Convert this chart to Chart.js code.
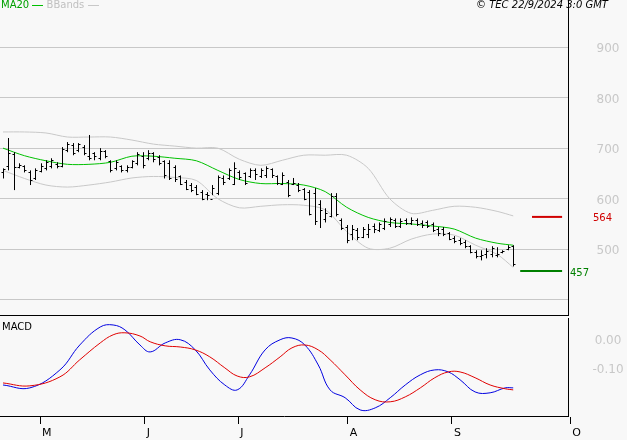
<!DOCTYPE html>
<html><head><meta charset="utf-8">
<script src="https://cdn.jsdelivr.net/npm/chart.js@4.4.1/dist/chart.umd.min.js"></script>
<style>
body{margin:0;background:#f8f8f8;width:627px;height:440px;overflow:hidden;position:relative;font-family:"DejaVu Sans",sans-serif}
#c1{position:absolute;left:0;top:0}
#c2{position:absolute;left:0;top:316px}
.t{position:absolute;font-size:10px;white-space:nowrap}
</style></head><body>
<canvas id="c1" width="627" height="316"></canvas>
<canvas id="c2" width="627" height="124"></canvas>
<div class="t" style="left:1px;top:-1px;color:#00a000">MA20 <span style="display:inline-block;width:11px;border-top:1px solid #00c000;vertical-align:middle"></span> <span style="color:#c0c0c0">BBands <span style="display:inline-block;width:11px;border-top:1px solid #c8c8c8;vertical-align:middle"></span></span></div>
<div class="t" style="left:476px;top:-1px;font-style:italic;color:#000">© TEC 22/9/2024 3:0 GMT</div>
<div class="t" style="left:2px;top:321px;color:#000">MACD</div>
<script>
const highs=[660,720,692,670,666,656,660,670,676,680,672,702,712,710,710,706,726,692,700,696,676,676,666,666,676,692,692,696,692,686,676,676,666,646,637,631,627,617,613,627,646,646,660,672,656,652,660,660,660,664,660,646,652,637,641,631,621,617,621,597,581,611,611,561,548,548,542,544,550,551,553,561,563,561,561,561,563,561,557,557,553,544,544,534,526,522,518,508,498,498,502,506,504,498,508,508];
const lows=[640,656,617,660,652,627,637,652,656,660,660,662,692,686,692,686,676,676,676,680,652,656,652,652,660,666,660,676,672,666,640,637,633,627,617,613,607,597,597,607,607,627,637,627,637,627,641,637,641,641,641,627,627,603,627,613,597,567,548,542,553,563,565,538,512,518,518,522,522,532,534,538,544,542,542,548,548,546,542,542,534,526,526,518,512,508,502,492,482,478,482,484,484,492,498,466];
const opens=[652,665,688,662,664,652,640,655,660,664,668,665,696,706,696,702,685,690,680,694,674,660,664,656,662,670,684,680,690,682,674,670,662,644,634,628,624,614,610,600,612,640,640,630,652,650,644,656,644,646,658,644,630,634,630,628,620,614,612,590,560,566,606,558,545,530,538,525,530,546,538,542,550,558,546,558,552,558,552,554,550,540,540,532,522,518,514,506,494,486,490,490,488,494,500,506];
const closes=[658,690,662,666,656,636,656,664,672,676,664,698,708,690,708,690,680,684,694,684,656,672,656,662,674,688,666,690,678,670,646,640,638,630,620,617,610,600,608,622,642,634,656,660,642,632,656,648,656,660,646,632,646,608,632,617,600,570,556,578,572,606,570,542,518,540,524,540,540,540,550,556,560,546,556,552,558,550,548,546,538,532,530,520,516,512,506,494,486,488,496,502,490,496,504,470];
const bandDays=[1,5,9,13,17,21,25,29,33,37,41,45,49,53,57,61,65,69,73,77,81,85,89,93,96];
const ma20=[700,685,675,668,668,672,684,684,680,675,656,638,630,630,627,614,583,563,553,550,546,540,522,512,508];
const bbUpper=[732,732,730,722,722,722,716,708,704,700,700,678,666,676,686,686,686,660,600,571,577,585,583,575,566];
const bbLower=[656,640,627,623,627,633,641,644,642,636,600,582,585,588,587,578,535,502,502,520,530,528,508,490,464];
const macdDays=[1,6,11.6,15.3,19.1,21.5,23.7,26.5,28.4,31.2,34,36.8,39.5,42.3,44.6,46.9,49.8,52.6,54.8,57.2,59.7,61.9,64.7,67.5,70.3,73.1,75.9,78.7,81.4,83.9,86.1,88.9,91.7,94.5,96];
const macd=[-0.159,-0.169,-0.107,-0.021,0.041,0.048,0.031,-0.021,-0.045,-0.014,-0.003,-0.038,-0.107,-0.159,-0.176,-0.124,-0.038,-0.003,0.003,-0.021,-0.090,-0.176,-0.203,-0.245,-0.238,-0.203,-0.159,-0.124,-0.107,-0.114,-0.141,-0.183,-0.186,-0.169,-0.169];
const signal=[-0.152,-0.162,-0.131,-0.072,-0.014,0.014,0.021,0.010,-0.010,-0.024,-0.028,-0.038,-0.062,-0.100,-0.128,-0.131,-0.100,-0.062,-0.031,-0.021,-0.038,-0.072,-0.124,-0.176,-0.210,-0.217,-0.200,-0.169,-0.134,-0.114,-0.114,-0.134,-0.159,-0.172,-0.176];
const resistance=564, support=457;
const monthDays=[7.9,27.4,44.8,65.2,84.6,106.6];
const monthLabels=['M','J','J','A','S','O'];
const priceTicks=[500,600,700,800,900];
const macdTicks=[0,-0.1], macdTickLabels=['0.00','-0.10'];

const XMIN=0.44, XMAX=106.2;
const pts=(d,v)=>d.map((x,i)=>({x,y:v[i]}));
const GRAY='#c8c8c8';
const ohlc={id:'ohlc',afterDatasetsDraw(ch){
  const c=ch.ctx,xs=ch.scales.x,ys=ch.scales.y;
  c.save();c.strokeStyle='#000';c.lineWidth=1;
  for(let i=0;i<highs.length;i++){
    const x=Math.round(xs.getPixelForValue(i+1))+0.5;
    c.beginPath();c.moveTo(x,ys.getPixelForValue(highs[i]));c.lineTo(x,ys.getPixelForValue(lows[i]));
    const yo=Math.round(ys.getPixelForValue(opens[i]))+0.5,yc=Math.round(ys.getPixelForValue(closes[i]))+0.5;
    c.moveTo(x-2,yo);c.lineTo(x,yo);c.moveTo(x,yc);c.lineTo(x+2,yc);c.stroke();
  }
  c.font='12px "DejaVu Sans"';c.textBaseline='middle';c.textAlign='center';c.fillStyle=GRAY;
  priceTicks.forEach(v=>c.fillText(String(v),608,ys.getPixelForValue(v)+2));
  c.font='10px "DejaVu Sans"';c.textAlign='left';
  c.fillStyle='#d00000';c.fillText(String(resistance),593,ys.getPixelForValue(resistance)+2);
  c.fillStyle='#008000';c.fillText(String(support),570,ys.getPixelForValue(support)+2);
  c.strokeStyle='#000';c.beginPath();c.moveTo(0,315.5);c.lineTo(568,315.5);c.stroke();
  c.restore();
}};
const macdText={id:'macdText',afterDraw(ch){
  const c=ch.ctx,xs=ch.scales.x,ys=ch.scales.y;
  c.save();c.font='12px "DejaVu Sans"';c.textBaseline='middle';c.textAlign='center';c.fillStyle=GRAY;
  macdTicks.forEach((v,i)=>c.fillText(macdTickLabels[i],608,ys.getPixelForValue(v)+2));
  c.fillStyle='#000';c.font='11px "DejaVu Sans"';c.textAlign='left';
  monthDays.forEach((d,i)=>c.fillText(monthLabels[i],xs.getPixelForValue(d)+2,117));
  c.restore();
}};
const fixW={afterFit(s){s.width=59;}};
new Chart(document.getElementById('c1'),{
  type:'line',
  data:{datasets:[
    {data:pts(bandDays,bbUpper),borderColor:GRAY,borderWidth:1,pointRadius:0,tension:0.3},
    {data:pts(bandDays,bbLower),borderColor:GRAY,borderWidth:1,pointRadius:0,tension:0.3},
    {data:pts(bandDays,ma20),borderColor:'#00c000',borderWidth:1,pointRadius:0,tension:0.3},
    {data:[{x:99.5,y:resistance},{x:105.1,y:resistance}],borderColor:'#d00000',borderWidth:2,pointRadius:0},
    {data:[{x:97.3,y:support},{x:105.1,y:support}],borderColor:'#008000',borderWidth:2,pointRadius:0}
  ]},
  options:{animation:false,responsive:false,layout:{padding:0},
    plugins:{legend:{display:false},tooltip:{enabled:false}},
    scales:{
      x:{type:'linear',min:XMIN,max:XMAX,display:false},
      y:{position:'right',min:368,max:993,...fixW,
        afterBuildTicks(s){s.ticks=[400,500,600,700,800,900].map(v=>({value:v}));},
        grid:{color:GRAY,tickLength:0},border:{color:'#000'},
        ticks:{display:false}}
    }},
  plugins:[ohlc]
});
new Chart(document.getElementById('c2'),{
  type:'line',
  data:{datasets:[
    {data:pts(macdDays,signal),borderColor:'#e00000',borderWidth:1,pointRadius:0,tension:0.4},
    {data:pts(macdDays,macd),borderColor:'#0000e0',borderWidth:1,pointRadius:0,tension:0.4}
  ]},
  options:{animation:false,responsive:false,layout:{padding:{top:2,bottom:0,left:0,right:0}},
    plugins:{legend:{display:false},tooltip:{enabled:false}},
    scales:{
      x:{type:'linear',min:XMIN,max:XMAX,afterFit(s){s.height=24;},
        afterBuildTicks(s){s.ticks=monthDays.map(v=>({value:v}));},
        grid:{drawOnChartArea:false,color:'#000',tickLength:8},border:{color:'#000'},
        ticks:{display:false}},
      y:{position:'right',min:-0.266,max:0.072,...fixW,
        grid:{display:false},border:{color:'#000'},ticks:{display:false}}
    }},
  plugins:[macdText]
});
</script></body></html>
